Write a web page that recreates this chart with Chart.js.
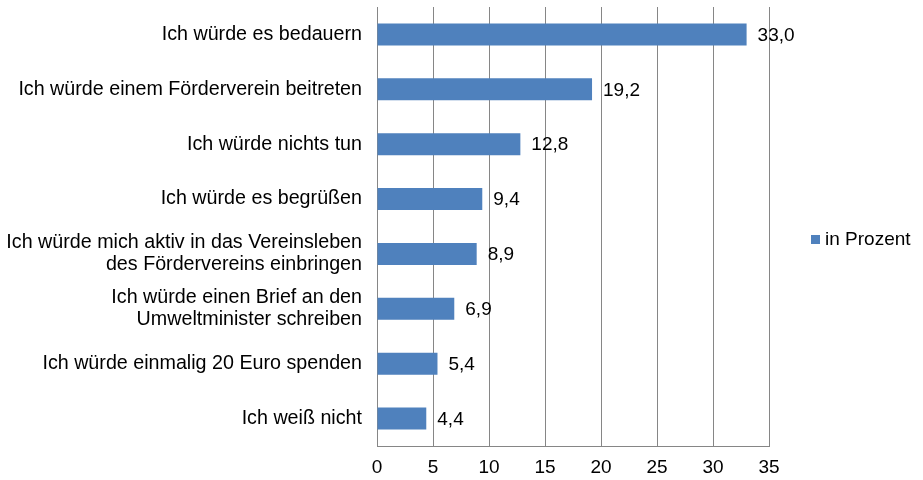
<!DOCTYPE html>
<html>
<head>
<meta charset="utf-8">
<script src="https://cdn.jsdelivr.net/npm/chart.js@4"></script>
<style>
  html, body { margin: 0; padding: 0; background: #fff; }
  #wrap { width: 923px; height: 480px; }
</style>
</head>
<body>
<div id="wrap"><canvas id="chartAntwort"></canvas></div>
<script>
const kategorien = [
  "Ich würde es bedauern",
  "Ich würde einem Förderverein beitreten",
  "Ich würde nichts tun",
  "Ich würde es begrüßen",
  ["Ich würde mich aktiv in das Vereinsleben", "des Fördervereins einbringen"],
  ["Ich würde einen Brief an den", "Umweltminister schreiben"],
  "Ich würde einmalig 20 Euro spenden",
  "Ich weiß nicht",
];
const werte = [33.0, 19.2, 12.8, 9.4, 8.9, 6.9, 5.4, 4.4];
const serienName = "in Prozent";
const xTicks = [0, 5, 10, 15, 20, 25, 30, 35];

const schrift = "'Liberation Sans', Arial, sans-serif";
const blau = "#4F81BD";
const grau = "#868686";

// Werte rechts neben die Balken schreiben
const wertLabels = {
  id: "wertLabels",
  afterDatasetsDraw(chart) {
    const ctx = chart.ctx;
    const meta = chart.getDatasetMeta(0);
    ctx.save();
    ctx.font = "19px " + schrift;
    ctx.fillStyle = "#000";
    ctx.textBaseline = "middle";
    ctx.textAlign = "left";
    meta.data.forEach((bar, i) => {
      const txt = werte[i].toFixed(1).replace(".", ",");
      ctx.fillText(txt, bar.x + 11, bar.y + 1);
    });
    ctx.restore();
  },
};

// Legende rechts
const legende = {
  id: "legende",
  afterDraw(chart) {
    const ctx = chart.ctx;
    ctx.save();
    ctx.fillStyle = blau;
    ctx.fillRect(811, 235, 9, 9);
    ctx.font = "19px " + schrift;
    ctx.fillStyle = "#000";
    ctx.textBaseline = "middle";
    ctx.fillText(chart.data.datasets[0].label, 825, 240);
    ctx.restore();
  },
};

const data = {
  labels: kategorien,
  datasets: [
    {
      label: serienName,
      data: werte,
      backgroundColor: blau,
      borderWidth: 0,
      categoryPercentage: 1,
      barPercentage: 0.4,
    },
  ],
};

const config = {
  type: "bar",
  data,
  options: {
    indexAxis: "y",
    responsive: true,
    maintainAspectRatio: false,
    animation: false,
    layout: { padding: { top: 7, right: 154, left: 0, bottom: 0 } },
    plugins: {
      legend: { display: false },
      tooltip: { enabled: false },
    },
    scales: {
      x: {
        min: 0,
        max: 35,
        afterBuildTicks: (s) => { s.ticks = xTicks.map((v) => ({ value: v })); },
        afterFit: (s) => { s.height = 34; },
        grid: { color: grau, lineWidth: 1, drawTicks: false },
        border: { color: grau },
        ticks: { color: "#000", font: { family: schrift, size: 19 }, padding: 10 },
      },
      y: {
        afterFit: (s) => { s.width = 377; s.paddingTop = 0; s.paddingBottom = 0; },
        grid: { display: false, drawTicks: false },
        border: { color: grau },
        ticks: { color: "#000", font: { family: schrift, size: 19.7, lineHeight: 1.12 }, padding: 15 },
      },
    },
  },
  plugins: [wertLabels, legende],
};

const chartAntwort = new Chart(document.getElementById("chartAntwort"), config);
</script>
</body>
</html>
